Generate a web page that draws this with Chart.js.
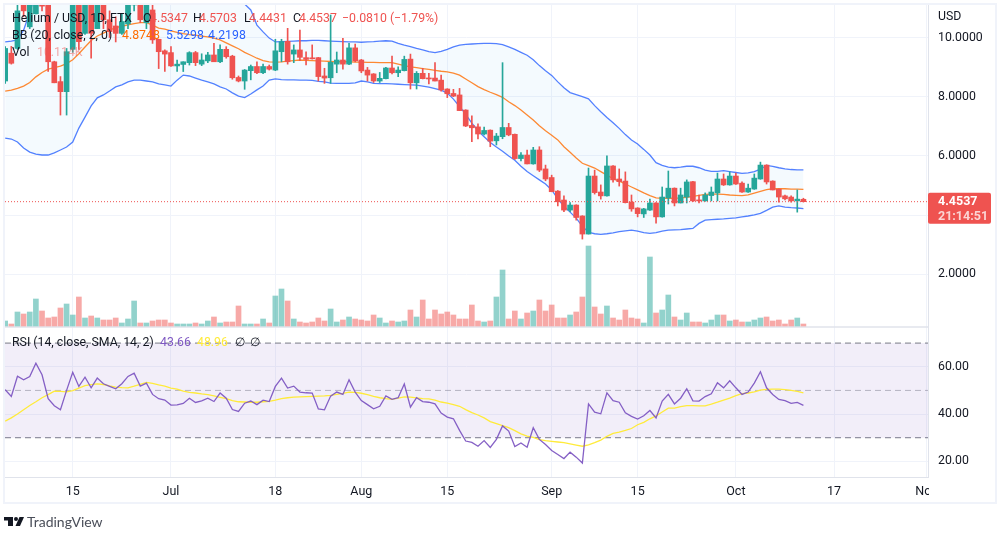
<!DOCTYPE html>
<html>
<head>
<meta charset="utf-8">
<style>html,body{margin:0;padding:0;background:#fff;overflow:hidden}canvas{display:block}</style>
<script src="https://cdn.jsdelivr.net/npm/chart.js@4"></script>
</head>
<body>
<canvas id="c" width="1006" height="539"></canvas>
<script>
const opens = [8.53,9.47,9.63,11.40,10.36,10.80,11.70,11.10,9.18,8.51,
8.17,9.60,11.30,10.14,11.30,10.30,11.40,10.60,10.39,10.14,
10.46,11.10,11.40,10.50,10.93,9.94,9.55,9.49,9.04,9.09,
9.15,9.49,9.10,9.21,9.41,9.18,9.60,9.37,8.65,8.53,
8.88,9.02,8.81,9.02,8.90,9.52,9.87,9.44,9.58,9.32,
9.30,9.32,8.70,8.64,9.10,9.24,9.10,9.65,9.24,8.90,
8.77,8.53,8.61,8.97,8.81,8.88,9.27,8.47,8.79,8.62,
8.63,8.56,8.26,8.11,8.06,7.55,7.03,6.98,6.74,6.87,
6.51,6.65,6.96,6.73,5.91,6.03,5.73,6.20,5.56,5.27,
4.81,4.51,4.17,4.34,3.97,3.36,5.32,4.78,4.65,5.66,
5.22,5.15,4.44,4.24,4.04,4.17,4.41,3.94,4.58,4.91,
4.41,4.61,5.13,4.51,4.48,4.66,4.75,5.22,5.02,5.32,
5.08,4.78,4.88,5.22,5.69,5.15,4.88,4.65,4.61,4.48,4.5347];
const highs = [9.69,9.70,11.30,11.60,11.50,11.90,11.90,11.30,9.20,8.68,
9.63,11.60,11.50,11.70,11.50,11.60,11.60,10.90,10.70,10.80,
11.30,11.70,11.60,11.30,11.20,9.94,9.58,9.69,9.24,9.18,
9.52,9.53,9.45,9.50,9.80,9.75,9.69,9.40,8.70,8.92,
9.07,9.18,9.10,9.07,9.94,9.94,10.31,9.75,10.25,9.52,
9.75,9.33,8.96,10.76,9.51,9.97,9.80,9.78,9.26,8.99,
8.78,8.82,8.99,9.37,9.01,9.37,9.44,8.85,8.96,8.79,
9.15,8.73,8.27,8.25,8.28,7.56,7.35,7.08,6.97,6.88,
6.76,9.15,7.10,6.74,6.11,6.20,6.29,6.31,5.69,5.35,
4.83,4.65,4.42,4.35,3.98,5.59,5.52,5.02,6.00,5.67,
5.56,5.46,4.68,4.25,4.23,4.54,4.42,4.95,5.49,4.92,
4.91,5.19,5.14,4.68,4.75,4.95,5.42,5.39,5.46,5.42,
5.12,5.05,5.39,5.79,5.70,5.16,4.89,4.68,4.65,4.85,4.5703];
const lows = [8.45,9.10,9.60,10.70,10.30,10.80,10.90,8.85,8.47,7.38,
7.38,9.50,9.60,10.10,9.30,10.30,10.30,10.00,9.85,10.10,
10.30,10.90,10.50,10.30,9.80,8.95,8.85,9.02,8.85,8.85,
9.07,9.05,9.05,9.15,9.18,9.15,9.30,8.59,8.50,8.25,
8.57,8.78,8.78,8.90,8.88,9.18,9.10,9.15,9.22,9.07,
9.27,8.53,8.45,8.45,8.81,8.93,9.08,9.18,8.81,8.53,
8.48,8.48,8.60,8.77,8.68,8.87,8.26,8.26,8.60,8.43,
8.53,8.19,7.97,8.00,7.53,6.99,6.48,6.57,6.71,6.31,
6.37,6.58,6.68,5.88,5.83,5.73,5.72,5.47,5.16,4.79,
4.31,4.12,4.12,3.83,3.19,3.36,4.71,4.54,4.64,5.11,
4.98,4.41,4.13,3.94,3.92,4.16,3.73,3.93,4.375,4.31,
4.41,4.41,4.45,4.41,4.47,4.48,4.48,5.00,5.01,5.04,
4.77,4.77,4.87,5.21,5.05,4.85,4.44,4.51,4.44,4.10,4.4431];
const closes = [9.63,9.13,10.90,10.90,11.30,11.70,11.06,9.18,8.47,8.17,
9.52,11.30,9.86,11.40,10.14,11.40,10.60,10.20,10.14,10.54,
11.10,11.50,10.60,11.10,9.92,9.52,9.44,9.04,9.10,9.18,
9.49,9.15,9.24,9.41,9.18,9.60,9.35,8.64,8.53,8.90,
9.02,8.81,9.02,8.93,9.55,9.86,9.18,9.58,9.33,9.26,
9.28,8.68,8.63,9.16,9.24,9.10,9.65,9.21,8.87,8.73,
8.53,8.62,8.97,8.81,8.90,9.26,8.47,8.79,8.61,8.60,
8.53,8.23,8.10,8.02,7.53,7.01,6.95,6.74,6.86,6.50,
6.67,6.96,6.71,5.91,6.03,5.73,6.20,5.52,5.22,4.79,
4.45,4.17,4.34,3.92,3.36,5.32,4.76,4.65,5.66,5.19,
5.13,4.42,4.21,4.05,4.21,4.41,3.94,4.61,4.91,4.41,
4.68,5.12,4.48,4.48,4.68,4.78,5.22,5.02,5.32,5.05,
4.78,4.91,5.25,5.69,5.12,4.85,4.61,4.55,4.48,4.54,4.4537];
const volumesK = [25,10,70,60,70,135,75,40,45,90,
110,55,145,40,50,40,30,30,40,15,
35,125,15,15,25,30,30,15,10,10,
10,15,10,25,45,15,20,20,100,10,
10,10,35,15,150,185,125,35,20,15,
20,40,25,85,20,30,45,35,30,25,
55,40,15,25,20,25,80,45,130,35,
80,60,70,55,35,35,105,25,20,25,
145,280,35,75,35,65,75,130,75,105,
40,40,55,70,145,400,95,60,100,40,
30,80,40,35,15,345,65,80,155,45,
30,65,20,20,15,30,55,55,25,30,
20,20,30,40,45,25,30,10,30,40,10];
const bbUpper = [9.85,9.88,9.92,10.25,10.86,11.5,12.0,12.4,12.7,13.0,
13.2,13.3,13.4,13.5,13.55,13.6,13.6,13.55,13.5,13.45,
13.4,13.35,13.3,13.2,13.1,13.0,12.9,12.8,12.7,12.6,
12.5,12.4,12.3,12.2,12.1,12.0,11.8,11.6,11.4,11.13,
10.93,10.42,10.19,9.98,9.85,9.86,9.87,9.88,9.89,9.89,
9.90,9.90,9.89,9.88,9.87,9.86,9.85,9.85,9.84,9.85,
9.86,9.88,9.89,9.88,9.80,9.74,9.69,9.63,9.58,9.52,
9.49,9.53,9.60,9.68,9.74,9.77,9.78,9.79,9.80,9.80,
9.79,9.76,9.68,9.60,9.50,9.40,9.25,9.05,8.88,8.72,
8.50,8.30,8.14,8.07,8.00,7.93,7.70,7.49,7.30,7.12,
6.93,6.72,6.54,6.40,6.22,6.03,5.77,5.68,5.62,5.60,
5.62,5.65,5.65,5.60,5.52,5.48,5.48,5.50,5.47,5.44,
5.41,5.43,5.47,5.55,5.68,5.65,5.60,5.56,5.54,5.53,5.53];
const bbLower = [6.60,6.57,6.47,6.27,6.13,6.06,6.03,6.03,6.10,6.20,
6.30,6.47,6.94,7.31,7.69,7.96,8.06,8.19,8.33,8.40,
8.50,8.56,8.56,8.53,8.50,8.43,8.40,8.36,8.56,8.73,
8.70,8.63,8.56,8.50,8.43,8.33,8.26,8.13,8.02,7.97,
8.09,8.23,8.36,8.56,8.60,8.58,8.57,8.57,8.56,8.56,
8.55,8.52,8.50,8.46,8.45,8.45,8.45,8.47,8.53,8.50,
8.45,8.44,8.44,8.43,8.42,8.41,8.40,8.39,8.36,8.32,
8.27,8.22,8.12,7.92,7.67,7.40,7.11,6.85,6.65,6.45,
6.30,6.16,6.00,5.85,5.65,5.47,5.33,5.19,5.05,4.85,
4.55,4.30,4.10,3.90,3.62,3.42,3.37,3.35,3.37,3.40,
3.44,3.47,3.49,3.46,3.41,3.38,3.41,3.46,3.49,3.50,
3.51,3.53,3.55,3.72,3.83,3.85,3.86,3.87,3.89,3.91,
3.94,3.97,4.01,4.06,4.16,4.27,4.31,4.27,4.25,4.24,4.22];
const bbBasis = [8.19,8.22,8.28,8.36,8.48,8.67,8.82,8.93,8.98,9.03,
9.12,9.25,9.45,9.68,9.90,10.05,10.15,10.25,10.33,10.38,
10.43,10.47,10.50,10.50,10.42,10.32,10.28,10.22,10.17,10.13,
10.10,10.08,10.05,10.02,9.98,9.92,9.82,9.72,9.62,9.50,
9.40,9.30,9.22,9.18,9.17,9.18,9.20,9.22,9.24,9.23,
9.22,9.21,9.20,9.19,9.18,9.18,9.18,9.17,9.17,9.16,
9.16,9.15,9.15,9.15,9.10,9.05,9.01,8.98,8.95,8.92,
8.89,8.86,8.84,8.80,8.73,8.60,8.47,8.34,8.24,8.15,
8.07,7.98,7.83,7.70,7.55,7.38,7.21,7.02,6.85,6.70,
6.54,6.31,6.12,5.93,5.75,5.67,5.59,5.47,5.35,5.23,
5.15,5.05,4.95,4.85,4.75,4.66,4.58,4.57,4.57,4.57,
4.58,4.60,4.63,4.67,4.70,4.71,4.71,4.70,4.68,4.67,
4.66,4.68,4.74,4.80,4.86,4.89,4.89,4.89,4.88,4.88,4.87];
const rsiValues = [50.3,47.4,56.0,54.5,55.9,61.5,56.6,46.5,43.5,41.8,
50.0,57.7,51.7,55.6,51.1,55.2,52.8,51.7,50.7,52.8,
55.9,57.3,51.8,53.1,48.3,46.5,45.9,43.8,43.9,44.5,
46.7,44.9,45.6,46.7,45.3,48.9,46.7,41.9,41.1,44.6,
45.5,44.0,45.9,45.3,51.7,55.2,51.0,51.8,49.3,49.0,
48.9,42.2,41.8,47.6,49.3,48.3,54.5,49.3,45.7,44.0,
42.2,43.3,47.7,46.2,46.9,52.7,42.9,46.9,45.3,45.0,
44.3,40.4,38.7,38.0,33.1,28.6,28.0,26.4,28.8,25.9,
29.3,35.0,32.8,26.3,27.8,26.0,34.2,29.3,27.1,24.6,
22.9,21.2,23.9,21.8,19.3,44.3,40.8,40.1,49.0,45.7,
45.0,40.5,39.0,37.9,39.3,41.5,38.4,45.5,48.3,44.3,
46.7,50.7,45.6,45.5,47.4,48.6,53.2,51.1,54.1,51.1,
48.3,49.3,53.1,57.9,51.1,48.3,46.2,45.7,44.5,44.9,43.7];
const rsiMa = [37.0,38.4,40.0,41.8,43.6,45.2,46.9,48.2,49.7,49.6,
49.4,49.9,51.0,52.0,52.4,52.8,52.5,51.9,51.4,51.2,
51.1,51.8,52.6,53.4,53.0,52.3,51.8,51.0,50.5,49.7,
49.2,48.9,48.5,48.2,47.7,47.1,46.5,45.7,45.2,45.1,
45.0,45.0,45.2,45.4,45.9,46.5,46.9,47.2,47.3,47.4,
47.5,47.6,47.7,47.9,48.3,48.7,49.3,49.2,48.8,48.2,
47.5,46.9,46.5,46.2,46.7,47.3,47.2,46.8,46.5,46.4,
45.9,45.1,44.6,44.0,43.3,41.9,40.6,39.6,38.4,36.8,
36.0,35.1,34.3,33.0,31.6,30.7,30.1,29.2,28.8,28.5,
28.2,27.9,27.4,26.9,26.4,27.0,27.9,29.0,30.6,31.8,
32.4,33.1,33.9,35.5,36.5,38.0,39.2,40.9,42.5,42.5,
43.1,43.6,43.6,43.5,43.5,44.2,45.0,45.9,46.7,47.8,
48.6,48.9,49.4,50.1,50.4,50.5,50.5,50.3,50.0,49.6,49.0];
const xTickDays = [11,27,44,58,72,89,103,119,135,150];
const xTickLabels = ['15','Jul','18','Aug','15','Sep','15','Oct','17','Nov'];
const priceTickStep = 2;
const rsiTickStep = 20;
const rsiLevels = [70,50,30];
const lastPrice = 4.4537;
const countdown = '21:14:51';

const UP='#26a69a', DOWN='#ef5350', UPV='rgba(38,166,154,.5)', DOWNV='rgba(239,83,80,.5)';
const TXT='#131722', GRID='#f0f3fa', AXIS='#e0e3eb';
const BLUE='rgba(41,98,255,.8)', ORANGE='rgba(255,109,0,.8)', PURPLE='rgba(126,87,194,.95)';
const FONT='Roboto, "Noto Sans", sans-serif';
const X_MIN=-0.03, X_MAX=150.29;
const isUp = i => closes[i] >= opens[i];
const series = a => a.map((v,i)=>({x:i,y:v}));
const flat = v => [{x:X_MIN,y:v},{x:X_MAX,y:v}];
const lineBase = {type:'line',pointRadius:0,pointHoverRadius:0,borderWidth:1.3,tension:0,fill:false};
const noPad = s => {s.paddingTop=0;s.paddingBottom=0;s.paddingLeft=0;s.paddingRight=0;};

function txt(ctx,s,x,y,color,font){ctx.fillStyle=color;ctx.font=font||('12.3px '+FONT);ctx.textBaseline='middle';ctx.textAlign='left';ctx.fillText(s,x,y);}

const overlay = {
  id:'overlay',
  beforeDatasetsDraw(ch){
    const c=ch.ctx, a=ch.chartArea;
    c.save();
    c.strokeStyle=AXIS;c.lineWidth=1.5;
    const sep=ch.scales.rsi.top;
    c.beginPath();c.moveTo(a.left,sep);c.lineTo(a.right,sep);c.stroke();
    c.restore();
  },
  afterDatasetsDraw(ch){
    const c=ch.ctx;
    c.save();
    const leg=[['Helium / USD, 1D, FTX',12,18.5,TXT],['O',143,18.5,TXT],['4.5347',150,18.5,DOWN],['H',193,18.5,TXT],['4.5703',199,18.5,DOWN],['L',244,18.5,TXT],['4.4431',249,18.5,DOWN],['C',293,18.5,TXT],['4.4537',299,18.5,DOWN],['−0.0810 (−1.79%)',342,18.5,DOWN],
      ['BB (20, close, 2, 0)',12,35.5,TXT],['4.8748',122,35.5,'#ff6d00'],['5.5298',166,35.5,'#2962ff'],['4.2198',208,35.5,'#2962ff'],
      ['Vol',12,52.5,TXT],['10.114K',37,52.5,DOWNV],
      ['RSI (14, close, SMA, 14, 2)',12,342.5,TXT],['43.66',160,342.5,'#7e57c2'],['48.96',197,342.5,'#ffeb3b'],['∅',235,342.5,TXT],['∅',250,342.5,TXT]];
    for(const [s,x,y,col] of leg) txt(c,s,x,y,col);
    c.restore();
  },
  afterDraw(ch){
    const c=ch.ctx, a=ch.chartArea, ps=ch.scales.price;
    c.save();
    c.fillStyle='#fff';c.fillRect(a.right+1,a.bottom+1,67,25);
    c.strokeStyle=GRID;c.lineWidth=2;c.strokeRect(4,4,992,499);
    txt(c,'USD',938,17,TXT,'12.3px '+FONT);
    const py=ps.getPixelForValue(lastPrice);
    c.fillStyle=DOWN;c.beginPath();c.roundRect(a.right,py-9,63,31,2);c.fill();
    txt(c,lastPrice.toFixed(4),938,py+0.5,'#fff','bold 12.5px '+FONT);
    txt(c,countdown,938,py+15,'rgba(255,255,255,.75)','bold 12.5px '+FONT);
    // TradingView mark
    c.fillStyle='#131722';
    c.fillRect(4,517,9,3.5);c.fillRect(8,517,5,9);
    c.beginPath();c.arc(16,519,2,0,7);c.fill();
    c.beginPath();c.moveTo(19.5,517);c.lineTo(24,517);c.lineTo(20,526);c.lineTo(15.5,526);c.closePath();c.fill();
    txt(c,'TradingView',27,522,'#4a4e59','14px Lato, '+FONT);
    c.restore();
  }
};

new Chart(document.getElementById('c'),{
  type:'bar',
  plugins:[overlay],
  data:{datasets:[
    {...lineBase,label:'Last',yAxisID:'price',data:flat(lastPrice),borderColor:DOWN,borderWidth:1,borderDash:[1,2],order:0},
    {label:'Body',yAxisID:'price',grouped:false,barThickness:5,minBarLength:1,order:1,
      data:opens.map((o,i)=>({x:i,y:[o,closes[i]]})),backgroundColor:opens.map((_,i)=>isUp(i)?UP:DOWN)},
    {label:'Wick',yAxisID:'price',grouped:false,barThickness:1,order:2,
      data:lows.map((l,i)=>({x:i,y:[l,highs[i]]})),backgroundColor:lows.map((_,i)=>isUp(i)?UP:DOWN)},
    {...lineBase,label:'Basis',yAxisID:'price',data:series(bbBasis),borderColor:ORANGE,order:3},
    {...lineBase,label:'Upper',yAxisID:'price',data:series(bbUpper),borderColor:BLUE,fill:'+1',backgroundColor:'rgba(33,150,243,.05)',order:4},
    {...lineBase,label:'Lower',yAxisID:'price',data:series(bbLower),borderColor:BLUE,order:5},
    {label:'Vol',yAxisID:'vol',grouped:false,barThickness:5,order:6,
      data:volumesK.map((v,i)=>({x:i,y:v})),backgroundColor:volumesK.map((_,i)=>isUp(i)?UPV:DOWNV)},
    {...lineBase,label:'RSI',yAxisID:'rsi',data:series(rsiValues),borderColor:PURPLE,order:7},
    {...lineBase,label:'RSI MA',yAxisID:'rsi',data:series(rsiMa),borderColor:'#ffeb3b',order:8},
    {...lineBase,label:'R70',yAxisID:'rsi',data:flat(rsiLevels[0]),borderColor:'#787b86',borderWidth:1,borderDash:[6,4],fill:'+2',backgroundColor:'rgba(126,87,194,.1)',order:9},
    {...lineBase,label:'R50',yAxisID:'rsi',data:flat(rsiLevels[1]),borderColor:'rgba(120,123,134,.5)',borderWidth:1,borderDash:[6,4],order:10},
    {...lineBase,label:'R30',yAxisID:'rsi',data:flat(rsiLevels[2]),borderColor:'#787b86',borderWidth:1,borderDash:[6,4],order:11}
  ]},
  options:{
    responsive:false,animation:false,
    layout:{padding:{top:5,left:5,right:10,bottom:36}},
    plugins:{legend:{display:false},tooltip:{enabled:false}},
    scales:{
      x:{type:'linear',min:X_MIN,max:X_MAX,offset:false,
        afterBuildTicks(s){s.ticks=xTickDays.map(v=>({value:v}));},
        afterFit(s){s.height=26;noPad(s);},
        ticks:{autoSkip:false,maxRotation:0,color:TXT,font:{size:12.5,family:FONT},padding:7,
          callback(v){const k=xTickDays.indexOf(v);return k<0?'':xTickLabels[k];}},
        grid:{color:GRID,drawTicks:false,offset:false},border:{color:AXIS}},
      price:{type:'linear',position:'right',stack:'panes',stackWeight:322,min:0.22,max:11.098,
        afterFit(s){s.width=68;noPad(s);},
        ticks:{stepSize:priceTickStep,includeBounds:false,color:TXT,font:{size:12.3,family:FONT},padding:10,callback:v=>v.toFixed(4)},
        grid:{color:GRID,drawTicks:false},border:{color:AXIS}},
      rsi:{type:'linear',position:'right',stack:'panes',stackWeight:150,min:13.4,max:76.8,
        afterFit(s){s.width=68;noPad(s);},
        ticks:{stepSize:rsiTickStep,includeBounds:false,color:TXT,font:{size:12.3,family:FONT},padding:10,callback:v=>v.toFixed(2)},
        grid:{color:GRID,drawTicks:false},border:{color:AXIS}},
      vol:{type:'linear',position:'right',display:false,min:-755,max:1605,afterFit:noPad}
    }
  }
});
</script>
</body>
</html>
